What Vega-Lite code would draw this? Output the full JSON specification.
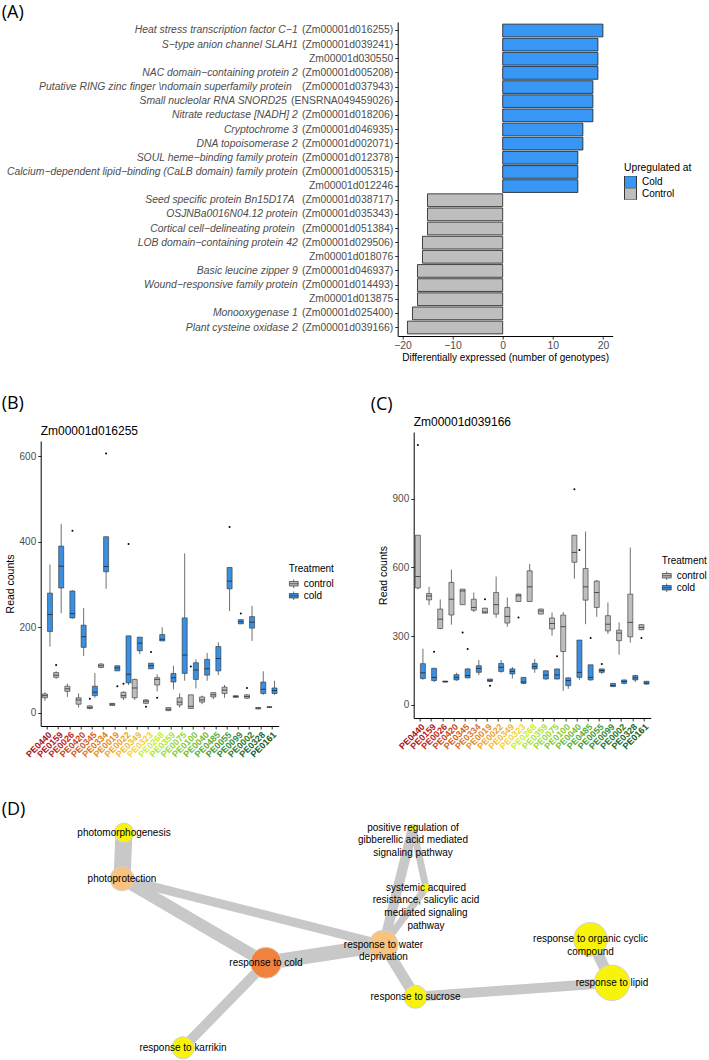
{
  "$schema": "https://vega.github.io/schema/vega-lite/v6.json",
  "padding": {"left": 1.7, "top": 4, "right": 0, "bottom": 0},
  "background": "white",
  "config": {
    "view": {"stroke": null},
    "font": "Liberation Sans",
    "axis": {"grid": false, "domainColor": "#000", "domainWidth": 1, "tickColor": "#333", "tickWidth": 1, "tickSize": 3, "labelColor": "#4d4d4d", "titleColor": "#000", "titleFontWeight": "normal", "labelFont": "Liberation Sans", "titleFont": "Liberation Sans"},
    "legend": {"titleFont": "Liberation Sans", "labelFont": "Liberation Sans", "titleFontWeight": "normal", "titleColor": "#000", "labelColor": "#000", "titleFontSize": 10.3, "labelFontSize": 10},
    "title": {"font": "Open Sans", "fontSize": 18, "fontWeight": "normal", "anchor": "start", "frame": "group", "color": "#000"}
  },
  "datasets": {
    "genes": [
      {"idl": "(Zm00001d016255)", "name": "Heat stress transcription factor C−1", "n": 20, "up": "Cold"},
      {"idl": "(Zm00001d039241)", "name": "S−type anion channel SLAH1", "n": 19, "up": "Cold"},
      {"idl": "Zm00001d030550", "name": "", "n": 19, "up": "Cold"},
      {"idl": "(Zm00001d005208)", "name": "NAC domain−containing protein 2", "n": 19, "up": "Cold"},
      {"idl": "(Zm00001d037943)", "name": "Putative RING zinc finger \\ndomain superfamily protein", "n": 18, "up": "Cold"},
      {"idl": "(ENSRNA049459026)", "name": "Small nucleolar RNA SNORD25", "n": 18, "up": "Cold"},
      {"idl": "(Zm00001d018206)", "name": "Nitrate reductase [NADH] 2", "n": 18, "up": "Cold"},
      {"idl": "(Zm00001d046935)", "name": "Cryptochrome 3", "n": 16, "up": "Cold"},
      {"idl": "(Zm00001d002071)", "name": "DNA topoisomerase 2", "n": 16, "up": "Cold"},
      {"idl": "(Zm00001d012378)", "name": "SOUL heme−binding family protein", "n": 15, "up": "Cold"},
      {"idl": "(Zm00001d005315)", "name": "Calcium−dependent lipid−binding (CaLB domain) family protein", "n": 15, "up": "Cold"},
      {"idl": "Zm00001d012246", "name": "", "n": 15, "up": "Cold"},
      {"idl": "(Zm00001d038717)", "name": "Seed specific protein Bn15D17A", "n": -15, "up": "Control"},
      {"idl": "(Zm00001d035343)", "name": "OSJNBa0016N04.12 protein", "n": -15, "up": "Control"},
      {"idl": "(Zm00001d051384)", "name": "Cortical cell−delineating protein", "n": -15, "up": "Control"},
      {"idl": "(Zm00001d029506)", "name": "LOB domain−containing protein 42", "n": -16, "up": "Control"},
      {"idl": "Zm00001d018076", "name": "", "n": -16, "up": "Control"},
      {"idl": "(Zm00001d046937)", "name": "Basic leucine zipper 9", "n": -17, "up": "Control"},
      {"idl": "(Zm00001d014493)", "name": "Wound−responsive family protein", "n": -17, "up": "Control"},
      {"idl": "Zm00001d013875", "name": "", "n": -17, "up": "Control"},
      {"idl": "(Zm00001d025400)", "name": "Monooxygenase 1", "n": -18, "up": "Control"},
      {"idl": "(Zm00001d039166)", "name": "Plant cysteine oxidase 2", "n": -19, "up": "Control"}
    ],
    "bstats": [
      {"g": "PE0440", "t": "control", "lo": 28, "q1": 35, "med": 40, "q3": 44, "hi": 48},
      {"g": "PE0440", "t": "cold", "lo": 155, "q1": 190, "med": 230, "q3": 280, "hi": 347},
      {"g": "PE0159", "t": "control", "lo": 79, "q1": 83, "med": 88, "q3": 94, "hi": 97},
      {"g": "PE0159", "t": "cold", "lo": 233, "q1": 292, "med": 343, "q3": 390, "hi": 442},
      {"g": "PE0026", "t": "control", "lo": 37, "q1": 50, "med": 56, "q3": 62, "hi": 68},
      {"g": "PE0026", "t": "cold", "lo": 220, "q1": 222, "med": 232, "q3": 285, "hi": 287},
      {"g": "PE0420", "t": "control", "lo": 12, "q1": 20, "med": 30, "q3": 35, "hi": 45},
      {"g": "PE0420", "t": "cold", "lo": 133, "q1": 153, "med": 178, "q3": 205, "hi": 245},
      {"g": "PE0345", "t": "control", "lo": 8, "q1": 10, "med": 12, "q3": 16, "hi": 18},
      {"g": "PE0345", "t": "cold", "lo": 35, "q1": 40, "med": 48, "q3": 62, "hi": 93},
      {"g": "PE0334", "t": "control", "lo": 104, "q1": 106, "med": 110, "q3": 114, "hi": 116},
      {"g": "PE0334", "t": "cold", "lo": 290, "q1": 330, "med": 342, "q3": 412, "hi": 412},
      {"g": "PE0019", "t": "control", "lo": 16, "q1": 17, "med": 20, "q3": 22, "hi": 22},
      {"g": "PE0019", "t": "cold", "lo": 98, "q1": 98, "med": 105, "q3": 110, "hi": 110},
      {"g": "PE0022", "t": "control", "lo": 30, "q1": 35, "med": 40, "q3": 48, "hi": 50},
      {"g": "PE0022", "t": "cold", "lo": 65, "q1": 70, "med": 90, "q3": 180, "hi": 180},
      {"g": "PE0349", "t": "control", "lo": 30, "q1": 35, "med": 58, "q3": 78, "hi": 80},
      {"g": "PE0349", "t": "cold", "lo": 137, "q1": 145, "med": 163, "q3": 177, "hi": 177},
      {"g": "PE0323", "t": "control", "lo": 20, "q1": 22, "med": 27, "q3": 30, "hi": 32},
      {"g": "PE0323", "t": "cold", "lo": 102, "q1": 103, "med": 110, "q3": 116, "hi": 116},
      {"g": "PE0268", "t": "control", "lo": 50, "q1": 65, "med": 78, "q3": 82, "hi": 90},
      {"g": "PE0268", "t": "cold", "lo": 168, "q1": 168, "med": 172, "q3": 183, "hi": 200},
      {"g": "PE0359", "t": "control", "lo": 4, "q1": 5, "med": 8, "q3": 12, "hi": 12},
      {"g": "PE0359", "t": "cold", "lo": 55, "q1": 72, "med": 82, "q3": 92, "hi": 110},
      {"g": "PE0075", "t": "control", "lo": 12, "q1": 18, "med": 25, "q3": 35, "hi": 45},
      {"g": "PE0075", "t": "cold", "lo": 75, "q1": 92, "med": 135, "q3": 222, "hi": 373},
      {"g": "PE0100", "t": "control", "lo": 10, "q1": 10, "med": 15, "q3": 42, "hi": 42},
      {"g": "PE0100", "t": "cold", "lo": 57, "q1": 78, "med": 100, "q3": 117, "hi": 125},
      {"g": "PE0040", "t": "control", "lo": 20, "q1": 25, "med": 30, "q3": 37, "hi": 40},
      {"g": "PE0040", "t": "cold", "lo": 75, "q1": 88, "med": 103, "q3": 125, "hi": 140},
      {"g": "PE0485", "t": "control", "lo": 32, "q1": 37, "med": 42, "q3": 47, "hi": 48},
      {"g": "PE0485", "t": "cold", "lo": 88, "q1": 98, "med": 127, "q3": 155, "hi": 165},
      {"g": "PE0055", "t": "control", "lo": 35, "q1": 45, "med": 53, "q3": 60, "hi": 65},
      {"g": "PE0055", "t": "cold", "lo": 238, "q1": 290, "med": 308, "q3": 340, "hi": 340},
      {"g": "PE0099", "t": "control", "lo": 35, "q1": 36, "med": 38, "q3": 40, "hi": 41},
      {"g": "PE0099", "t": "cold", "lo": 208, "q1": 208, "med": 213, "q3": 218, "hi": 218},
      {"g": "PE0002", "t": "control", "lo": 32, "q1": 34, "med": 38, "q3": 42, "hi": 43},
      {"g": "PE0002", "t": "cold", "lo": 168, "q1": 198, "med": 212, "q3": 225, "hi": 250},
      {"g": "PE0328", "t": "control", "lo": 8, "q1": 9, "med": 11, "q3": 12, "hi": 12},
      {"g": "PE0328", "t": "cold", "lo": 42, "q1": 45, "med": 55, "q3": 72, "hi": 97},
      {"g": "PE0161", "t": "control", "lo": 12, "q1": 13, "med": 13, "q3": 14, "hi": 15},
      {"g": "PE0161", "t": "cold", "lo": 42, "q1": 45, "med": 52, "q3": 58, "hi": 75}
    ],
    "bout": [
      {"g": "PE0159", "t": "control", "v": 112},
      {"g": "PE0026", "t": "cold", "v": 426},
      {"g": "PE0345", "t": "control", "v": 33},
      {"g": "PE0334", "t": "cold", "v": 607},
      {"g": "PE0019", "t": "cold", "v": 62},
      {"g": "PE0022", "t": "control", "v": 68},
      {"g": "PE0022", "t": "cold", "v": 395},
      {"g": "PE0323", "t": "control", "v": 14},
      {"g": "PE0323", "t": "cold", "v": 142},
      {"g": "PE0268", "t": "control", "v": 35},
      {"g": "PE0100", "t": "control", "v": 108},
      {"g": "PE0055", "t": "cold", "v": 435},
      {"g": "PE0099", "t": "cold", "v": 232},
      {"g": "PE0002", "t": "control", "v": 58}
    ],
    "cstats": [
      {"g": "PE0440", "t": "control", "lo": 505, "q1": 510, "med": 560, "q3": 740, "hi": 740},
      {"g": "PE0440", "t": "cold", "lo": 110, "q1": 115, "med": 140, "q3": 180, "hi": 245},
      {"g": "PE0159", "t": "control", "lo": 435, "q1": 458, "med": 475, "q3": 486, "hi": 515},
      {"g": "PE0159", "t": "cold", "lo": 100, "q1": 106, "med": 120, "q3": 160, "hi": 160},
      {"g": "PE0026", "t": "control", "lo": 330, "q1": 333, "med": 374, "q3": 418, "hi": 460},
      {"g": "PE0026", "t": "cold", "lo": 98, "q1": 100, "med": 101, "q3": 104, "hi": 105},
      {"g": "PE0420", "t": "control", "lo": 350, "q1": 392, "med": 461, "q3": 534, "hi": 590},
      {"g": "PE0420", "t": "cold", "lo": 105, "q1": 109, "med": 120, "q3": 132, "hi": 140},
      {"g": "PE0345", "t": "control", "lo": 437, "q1": 437, "med": 497, "q3": 505, "hi": 505},
      {"g": "PE0345", "t": "cold", "lo": 115, "q1": 118, "med": 128, "q3": 157, "hi": 160},
      {"g": "PE0334", "t": "control", "lo": 405, "q1": 413, "med": 425, "q3": 461, "hi": 490},
      {"g": "PE0334", "t": "cold", "lo": 130, "q1": 142, "med": 159, "q3": 171, "hi": 196},
      {"g": "PE0019", "t": "control", "lo": 400, "q1": 400, "med": 405, "q3": 422, "hi": 422},
      {"g": "PE0019", "t": "cold", "lo": 100, "q1": 103, "med": 105, "q3": 113, "hi": 113},
      {"g": "PE0022", "t": "control", "lo": 380, "q1": 396, "med": 437, "q3": 490, "hi": 560},
      {"g": "PE0022", "t": "cold", "lo": 140, "q1": 146, "med": 164, "q3": 181, "hi": 196},
      {"g": "PE0349", "t": "control", "lo": 341, "q1": 357, "med": 386, "q3": 425, "hi": 468},
      {"g": "PE0349", "t": "cold", "lo": 115, "q1": 135, "med": 146, "q3": 157, "hi": 165},
      {"g": "PE0323", "t": "control", "lo": 451, "q1": 451, "med": 476, "q3": 483, "hi": 486},
      {"g": "PE0323", "t": "cold", "lo": 90, "q1": 94, "med": 100, "q3": 120, "hi": 120},
      {"g": "PE0268", "t": "control", "lo": 450, "q1": 451, "med": 515, "q3": 585, "hi": 615},
      {"g": "PE0268", "t": "cold", "lo": 140, "q1": 157, "med": 167, "q3": 181, "hi": 200},
      {"g": "PE0359", "t": "control", "lo": 395, "q1": 396, "med": 410, "q3": 418, "hi": 420},
      {"g": "PE0359", "t": "cold", "lo": 110, "q1": 113, "med": 130, "q3": 149, "hi": 150},
      {"g": "PE0075", "t": "control", "lo": 302, "q1": 331, "med": 355, "q3": 379, "hi": 403},
      {"g": "PE0075", "t": "cold", "lo": 110, "q1": 113, "med": 131, "q3": 157, "hi": 157},
      {"g": "PE0100", "t": "control", "lo": 62, "q1": 233, "med": 341, "q3": 392, "hi": 405},
      {"g": "PE0100", "t": "cold", "lo": 70, "q1": 84, "med": 106, "q3": 118, "hi": 120},
      {"g": "PE0040", "t": "control", "lo": 550, "q1": 622, "med": 665, "q3": 740, "hi": 740},
      {"g": "PE0040", "t": "cold", "lo": 110, "q1": 120, "med": 142, "q3": 283, "hi": 283},
      {"g": "PE0485", "t": "control", "lo": 352, "q1": 457, "med": 515, "q3": 595, "hi": 756},
      {"g": "PE0485", "t": "cold", "lo": 105, "q1": 109, "med": 120, "q3": 175, "hi": 175},
      {"g": "PE0055", "t": "control", "lo": 384, "q1": 425, "med": 490, "q3": 540, "hi": 545},
      {"g": "PE0055", "t": "cold", "lo": 135, "q1": 142, "med": 150, "q3": 157, "hi": 157},
      {"g": "PE0099", "t": "control", "lo": 309, "q1": 323, "med": 352, "q3": 389, "hi": 447},
      {"g": "PE0099", "t": "cold", "lo": 78, "q1": 80, "med": 85, "q3": 94, "hi": 94},
      {"g": "PE0002", "t": "control", "lo": 219, "q1": 280, "med": 313, "q3": 326, "hi": 360},
      {"g": "PE0002", "t": "cold", "lo": 90, "q1": 94, "med": 102, "q3": 109, "hi": 110},
      {"g": "PE0328", "t": "control", "lo": 272, "q1": 297, "med": 360, "q3": 483, "hi": 686},
      {"g": "PE0328", "t": "cold", "lo": 100, "q1": 109, "med": 118, "q3": 128, "hi": 132},
      {"g": "PE0161", "t": "control", "lo": 326, "q1": 328, "med": 338, "q3": 350, "hi": 352},
      {"g": "PE0161", "t": "cold", "lo": 88, "q1": 91, "med": 95, "q3": 103, "hi": 105}
    ],
    "cout": [
      {"g": "PE0440", "t": "control", "v": 1133},
      {"g": "PE0159", "t": "cold", "v": 232},
      {"g": "PE0345", "t": "control", "v": 316},
      {"g": "PE0345", "t": "cold", "v": 244},
      {"g": "PE0019", "t": "control", "v": 461},
      {"g": "PE0019", "t": "cold", "v": 84},
      {"g": "PE0323", "t": "control", "v": 381},
      {"g": "PE0075", "t": "cold", "v": 212},
      {"g": "PE0040", "t": "control", "v": 940},
      {"g": "PE0040", "t": "cold", "v": 675},
      {"g": "PE0485", "t": "cold", "v": 292},
      {"g": "PE0055", "t": "cold", "v": 178},
      {"g": "PE0161", "t": "control", "v": 292}
    ],
    "nodes": [
      {"name": "photomorphogenesis", "label": "photomorphogenesis", "x": 124, "y": 832, "genes": 22, "lvl": "low"},
      {"name": "photoprotection", "label": "photoprotection", "x": 122, "y": 878, "genes": 27, "lvl": "mid"},
      {"name": "cold", "label": "response to cold", "x": 266, "y": 962, "genes": 35, "lvl": "high"},
      {"name": "water", "label": "response to water\ndeprivation", "x": 383.5, "y": 944, "genes": 33, "lvl": "mid"},
      {"name": "gibberellic", "label": "positive regulation of\ngibberellic acid mediated\nsignaling pathway", "x": 413, "y": 827, "genes": 8, "lvl": "low"},
      {"name": "systemic", "label": "systemic acquired\nresistance, salicylic acid\nmediated signaling\npathway", "x": 426, "y": 887, "genes": 10, "lvl": "low"},
      {"name": "sucrose", "label": "response to sucrose", "x": 415.5, "y": 996, "genes": 26, "lvl": "low"},
      {"name": "karrikin", "label": "response to karrikin", "x": 183, "y": 1047, "genes": 25, "lvl": "low"},
      {"name": "organic", "label": "response to organic cyclic\ncompound", "x": 590.5, "y": 938.5, "genes": 38, "lvl": "low"},
      {"name": "lipid", "label": "response to lipid", "x": 612, "y": 982, "genes": 40, "lvl": "low"}
    ],
    "edges": [
      {"a": "photomorphogenesis", "b": "photoprotection", "w": 0.85},
      {"a": "photoprotection", "b": "cold", "w": 0.6},
      {"a": "photoprotection", "b": "water", "w": 0.45},
      {"a": "cold", "b": "water", "w": 0.72},
      {"a": "cold", "b": "karrikin", "w": 0.5},
      {"a": "water", "b": "gibberellic", "w": 0.5},
      {"a": "water", "b": "systemic", "w": 0.35},
      {"a": "gibberellic", "b": "systemic", "w": 0.35},
      {"a": "water", "b": "sucrose", "w": 0.55},
      {"a": "sucrose", "b": "lipid", "w": 0.5},
      {"a": "organic", "b": "lipid", "w": 0.55}
    ]
  },
  "spacing": 31,
  "resolve": {
    "scale": {"x": "independent", "y": "independent", "fill": "independent", "color": "independent", "size": "independent", "strokeWidth": "independent", "xOffset": "independent"},
    "legend": {"fill": "independent", "color": "independent"},
    "axis": {"x": "independent", "y": "independent"}
  },
  "vconcat": [
    {
      "width": 572,
      "height": 314,
      "title": {"text": "(A)", "dx": -39, "offset": 0},
      "data": {"name": "genes"},
      "layer": [
        {
          "mark": {"type": "bar", "stroke": "#1a1a1a", "strokeWidth": 0.8},
          "encoding": {
            "y": {"field": "idl", "type": "nominal", "sort": null, "scale": {"paddingInner": 0.1, "paddingOuter": 0.15}, "axis": {"title": null, "labelFontSize": 10.4, "labelPadding": 2, "labelLimit": 400, "offset": -357}},
            "x": {"field": "n", "type": "quantitative", "scale": {"domain": [-20.95, 21.95], "range": [357, 572], "nice": false, "zero": false}, "axis": {"title": "Differentially expressed (number of genotypes)", "values": [-20, -10, 0, 10, 20], "labelFontSize": 10.4, "titleFontSize": 10, "titlePadding": 2, "labelPadding": 1}},
            "fill": {"field": "up", "type": "nominal", "scale": {"domain": ["Cold", "Control"], "range": ["#3897f4", "#bebebe"]}, "legend": {"title": "Upregulated at", "orient": "none", "legendX": 583.3, "legendY": 141, "symbolType": "square", "symbolSize": 144, "symbolStrokeColor": "#333", "symbolStrokeWidth": 1, "rowPadding": 0, "clipHeight": 11.7, "titlePadding": 2.7, "labelOffset": 5}}
          }
        },
        {
          "mark": {"type": "text", "align": "right", "baseline": "middle", "fontStyle": "italic", "fontSize": 10.4, "color": "#4d4d4d", "dx": {"expr": "length(datum.idl) > 16 ? -111 : (indexof(datum.name, 'Putative') >= 0 ? -106 : (indexof(datum.name, 'Seed') >= 0 || indexof(datum.name, 'Cortical') >= 0 ? -103 : -100))"}},
          "encoding": {
            "y": {"field": "idl", "type": "nominal", "sort": null},
            "x": {"datum": -20.95},
            "text": {"field": "name"}
          }
        }
      ]
    },
    {
      "spacing": 36,
      "resolve": {
        "scale": {"x": "independent", "y": "independent", "fill": "independent", "xOffset": "independent"},
        "legend": {"fill": "independent"},
        "axis": {"x": "independent", "y": "independent"}
      },
      "hconcat": [
        {
          "width": 238,
          "height": 294,
          "title": {"text": "(B)", "dx": -39, "offset": 12.2},
          "layer": [
            {
              "data": {"name": "bstats"},
              "mark": {"type": "rule", "color": "#333", "strokeWidth": 0.7},
              "encoding": {
                "x": {"field": "g", "type": "nominal", "sort": null, "scale": {"domain": ["PE0440","PE0159","PE0026","PE0420","PE0345","PE0334","PE0019","PE0022","PE0349","PE0323","PE0268","PE0359","PE0075","PE0100","PE0040","PE0485","PE0055","PE0099","PE0002","PE0328","PE0161"], "paddingInner": 0, "paddingOuter": 0.1},
                  "axis": {"title": null, "labelAngle": -45, "labelFontWeight": "bold", "labelFontSize": 9, "labelPadding": 1, "labelColor": {"expr": "['#a50f15','#b3151b','#bc2a22','#c64520','#d05e1d','#db761f','#e58d22','#eda528','#f3bb2e','#f6d335','#c6ef3a','#aee53a','#97d83a','#82cb3a','#6dbc39','#59ab37','#469a35','#358932','#25782f','#18692c','#0d5c29'][indexof(['PE0440','PE0159','PE0026','PE0420','PE0345','PE0334','PE0019','PE0022','PE0349','PE0323','PE0268','PE0359','PE0075','PE0100','PE0040','PE0485','PE0055','PE0099','PE0002','PE0328','PE0161'], datum.value)]"}}},
                "xOffset": {"field": "t", "type": "nominal", "scale": {"domain": ["control", "cold"], "paddingInner": 0, "paddingOuter": 0.11}},
                "y": {"field": "lo", "type": "quantitative", "scale": {"domain": [-31, 636], "range": [294, 9], "nice": false, "zero": false}, "axis": {"title": "Read counts", "values": [0, 200, 400, 600], "titleFontSize": 10.5, "labelFontSize": 10, "titlePadding": 4}},
                "y2": {"field": "hi"}
              }
            },
            {
              "data": {"name": "bstats"},
              "mark": {"type": "bar", "stroke": "#333", "strokeWidth": 0.6},
              "encoding": {
                "x": {"field": "g", "type": "nominal", "sort": null},
                "xOffset": {"field": "t", "type": "nominal"},
                "y": {"field": "q1", "type": "quantitative"},
                "y2": {"field": "q3"},
                "fill": {"field": "t", "type": "nominal", "scale": {"domain": ["control", "cold"], "range": ["#bebebe", "#3b8fe0"]}, "legend": {"title": "Treatment", "orient": "none", "legendX": 248, "legendY": 132, "symbolType": "M-1,-0.5H1V0.5H-1Z M-1,0H1 M0,-0.5V-0.95 M0,0.5V0.95", "symbolSize": 81, "symbolStrokeColor": "#333", "symbolStrokeWidth": 0.7, "rowPadding": 0, "clipHeight": 11.5, "titlePadding": 4, "labelOffset": 5, "titleFontSize": 10}}
              }
            },
            {
              "data": {"name": "bstats"},
              "mark": {"type": "tick", "color": "#1a1a1a", "thickness": 1, "size": 5},
              "encoding": {
                "x": {"field": "g", "type": "nominal", "sort": null},
                "xOffset": {"field": "t", "type": "nominal"},
                "y": {"field": "med", "type": "quantitative"}
              }
            },
            {
              "data": {"name": "bout"},
              "mark": {"type": "circle", "color": "#000", "size": 4, "opacity": 1},
              "encoding": {
                "x": {"field": "g", "type": "nominal", "sort": null},
                "xOffset": {"field": "t", "type": "nominal"},
                "y": {"field": "v", "type": "quantitative"}
              }
            },
            {
              "data": {"values": [{"gene": "Zm00001d016255"}]},
              "mark": {"type": "text", "align": "left", "baseline": "middle", "fontSize": 12, "color": "#000", "dx": -6.7},
              "encoding": {
                "x": {"datum": "PE0440"},
                "y": {"datum": 659.4},
                "text": {"field": "gene"}
              }
            }
          ]
        },
        {
          "width": 237,
          "height": 286,
          "title": {"text": "(C)", "dx": -43, "offset": 1.7},
          "layer": [
            {
              "data": {"name": "cstats"},
              "mark": {"type": "rule", "color": "#333", "strokeWidth": 0.7},
              "encoding": {
                "x": {"field": "g", "type": "nominal", "sort": null, "scale": {"domain": ["PE0440","PE0159","PE0026","PE0420","PE0345","PE0334","PE0019","PE0022","PE0349","PE0323","PE0268","PE0359","PE0075","PE0100","PE0040","PE0485","PE0055","PE0099","PE0002","PE0328","PE0161"], "paddingInner": 0, "paddingOuter": 0.1},
                  "axis": {"title": null, "labelAngle": -45, "labelFontWeight": "bold", "labelFontSize": 9, "labelPadding": 1, "labelColor": {"expr": "['#a50f15','#b3151b','#bc2a22','#c64520','#d05e1d','#db761f','#e58d22','#eda528','#f3bb2e','#f6d335','#c6ef3a','#aee53a','#97d83a','#82cb3a','#6dbc39','#59ab37','#469a35','#358932','#25782f','#18692c','#0d5c29'][indexof(['PE0440','PE0159','PE0026','PE0420','PE0345','PE0334','PE0019','PE0022','PE0349','PE0323','PE0268','PE0359','PE0075','PE0100','PE0040','PE0485','PE0055','PE0099','PE0002','PE0328','PE0161'], datum.value)]"}}},
                "xOffset": {"field": "t", "type": "nominal", "scale": {"domain": ["control", "cold"], "paddingInner": 0, "paddingOuter": 0.11}},
                "y": {"field": "lo", "type": "quantitative", "scale": {"domain": [-57, 1190], "nice": false, "zero": false}, "axis": {"title": "Read counts", "values": [0, 300, 600, 900], "titleFontSize": 10.5, "labelFontSize": 10, "titlePadding": 4}},
                "y2": {"field": "hi"}
              }
            },
            {
              "data": {"name": "cstats"},
              "mark": {"type": "bar", "stroke": "#333", "strokeWidth": 0.6},
              "encoding": {
                "x": {"field": "g", "type": "nominal", "sort": null},
                "xOffset": {"field": "t", "type": "nominal"},
                "y": {"field": "q1", "type": "quantitative"},
                "y2": {"field": "q3"},
                "fill": {"field": "t", "type": "nominal", "scale": {"domain": ["control", "cold"], "range": ["#bebebe", "#3b8fe0"]}, "legend": {"title": "Treatment", "orient": "none", "legendX": 248, "legendY": 124, "symbolType": "M-1,-0.5H1V0.5H-1Z M-1,0H1 M0,-0.5V-0.95 M0,0.5V0.95", "symbolSize": 81, "symbolStrokeColor": "#333", "symbolStrokeWidth": 0.7, "rowPadding": 0, "clipHeight": 11.5, "titlePadding": 4, "labelOffset": 5, "titleFontSize": 10}}
              }
            },
            {
              "data": {"name": "cstats"},
              "mark": {"type": "tick", "color": "#1a1a1a", "thickness": 1, "size": 5},
              "encoding": {
                "x": {"field": "g", "type": "nominal", "sort": null},
                "xOffset": {"field": "t", "type": "nominal"},
                "y": {"field": "med", "type": "quantitative"}
              }
            },
            {
              "data": {"name": "cout"},
              "mark": {"type": "circle", "color": "#000", "size": 4, "opacity": 1},
              "encoding": {
                "x": {"field": "g", "type": "nominal", "sort": null},
                "xOffset": {"field": "t", "type": "nominal"},
                "y": {"field": "v", "type": "quantitative"}
              }
            },
            {
              "data": {"values": [{"gene": "Zm00001d039166"}]},
              "mark": {"type": "text", "align": "left", "baseline": "middle", "fontSize": 12, "color": "#000", "dx": -6.7},
              "encoding": {
                "x": {"datum": "PE0440"},
                "y": {"datum": 1233.6},
                "text": {"field": "gene"}
              }
            }
          ]
        }
      ]
    },
    {
      "width": 668.3,
      "height": 269.8,
      "title": {"text": "(D)", "dx": -39, "offset": -27.8},
      "layer": [
        {
          "data": {"name": "edges"},
          "transform": [
            {"lookup": "a", "from": {"data": {"name": "nodes"}, "key": "name", "fields": ["x", "y"]}, "as": ["ax", "ay"]},
            {"lookup": "b", "from": {"data": {"name": "nodes"}, "key": "name", "fields": ["x", "y"]}, "as": ["bx", "by"]}
          ],
          "mark": {"type": "rule", "color": "#c8c8c8", "strokeCap": "butt"},
          "encoding": {
            "x": {"field": "ax", "type": "quantitative", "scale": {"domain": [40.7, 709], "nice": false, "zero": false}, "axis": null},
            "y": {"field": "ay", "type": "quantitative", "scale": {"domain": [790.2, 1060], "nice": false, "zero": false, "reverse": true}, "axis": null},
            "x2": {"field": "bx"},
            "y2": {"field": "by"},
            "strokeWidth": {"field": "w", "type": "quantitative", "scale": {"domain": [0, 1], "range": [0, 20]}, "legend": null}
          }
        },
        {
          "data": {"name": "nodes"},
          "mark": {"type": "circle", "opacity": 1, "stroke": "#d2d2d2", "strokeWidth": 1},
          "encoding": {
            "x": {"field": "x", "type": "quantitative"},
            "y": {"field": "y", "type": "quantitative"},
            "size": {"field": "genes", "type": "quantitative", "scale": {"type": "pow", "exponent": 2, "domain": [0, 40], "range": [0, 1256.6]}, "legend": null},
            "color": {"field": "lvl", "type": "nominal", "scale": {"domain": ["high", "mid", "low"], "range": ["#f0823d", "#f9c27f", "#f7f30a"]}, "legend": null}
          }
        },
        {
          "data": {"name": "nodes"},
          "mark": {"type": "text", "fontSize": 10, "lineBreak": "\n", "lineHeight": 12.7, "color": "#000", "baseline": "middle", "align": "center"},
          "encoding": {
            "x": {"field": "x", "type": "quantitative"},
            "y": {"field": "y", "type": "quantitative"},
            "text": {"field": "label"}
          }
        }
      ]
    }
  ]
}
